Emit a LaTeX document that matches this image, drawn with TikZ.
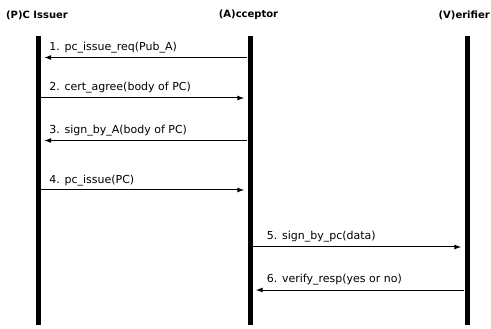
\documentclass[tikz,border=0pt]{standalone}
\usepackage{fontspec}
\setmainfont{DejaVu Sans}
\usepackage{tikz}
\usetikzlibrary{positioning, calc, arrows.meta}
\tikzset{
    actor/.style={
        font=\bfseries\fontsize{10}{12}\selectfont,
        inner sep=0pt
    },
    lifeline/.style={
        rectangle,
        fill=black,
        inner sep=0pt,
        minimum width=5pt,
        minimum height=289pt
    },
    msg/.style={-{Latex[length=7pt,width=5pt]}, line width=1pt, shorten >=3pt},
    msglabel/.style={font=\fontsize{11}{13}\selectfont, inner sep=0pt, anchor=base west}
}

\begin{document}
\begin{tikzpicture}[x=1pt, y=-1pt]
\useasboundingbox (0,0) rectangle (491,329);

% Actors
\node[actor] (iss) at (37,15) {(P)C Issuer};
\node[actor] (acc) at (248.5,15) {(A)cceptor};
\node[actor, anchor=east] (ver) at (490,15) {(V)erifier};

% Lifelines
\node[lifeline] (lIss) at (38.5,180.5) {};
\node[lifeline] (lAcc) at (250,180.5) {};
\node[lifeline] (lVer) at (467,180.5) {};

% Message levels
\coordinate (m1) at (0,57.5);
\coordinate (m2) at (0,98);
\coordinate (m3) at (0,140.5);
\coordinate (m4) at (0,190);
\coordinate (m5) at (0,247);
\coordinate (m6) at (0,290);

% Issuer <-> Acceptor
\draw[msg] (lAcc.west |- m1) -- (lIss.east |- m1);
\node[msglabel] (t1) at ($(lIss.east |- m1)+(8,-7)$) {1. pc\_issue\_req(Pub\_A)};

\draw[msg] (lIss.east |- m2) -- (lAcc.west |- m2);
\node[msglabel] (t2) at ($(lIss.east |- m2)+(8,-7)$) {2. cert\_agree(body of PC)};

\draw[msg] (lAcc.west |- m3) -- (lIss.east |- m3);
\node[msglabel] (t3) at ($(lIss.east |- m3)+(8,-7)$) {3. sign\_by\_A(body of PC)};

\draw[msg] (lIss.east |- m4) -- (lAcc.west |- m4);
\node[msglabel] (t4) at ($(lIss.east |- m4)+(8,-7)$) {4. pc\_issue(PC)};

% Acceptor <-> Verifier
\draw[msg] (lAcc.east |- m5) -- (lVer.west |- m5);
\node[msglabel] (t5) at ($(lAcc.east |- m5)+(14,-7)$) {5. sign\_by\_pc(data)};

\draw[msg] (lVer.west |- m6) -- (lAcc.east |- m6);
\node[msglabel] (t6) at ($(lAcc.east |- m6)+(14,-7)$) {6. verify\_resp(yes or no)};

\end{tikzpicture}
\end{document}
